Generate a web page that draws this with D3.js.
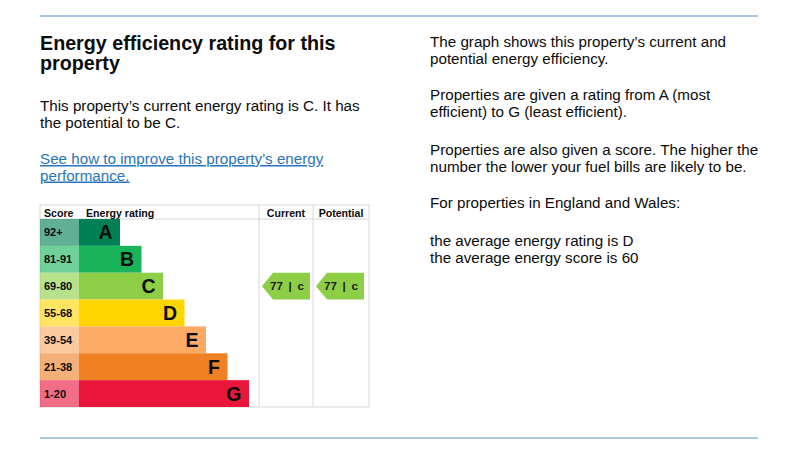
<!DOCTYPE html>
<html>
<head>
<meta charset="utf-8">
<script src="https://cdn.jsdelivr.net/npm/d3@7/dist/d3.min.js"></script>
<style>
  body { margin: 0; background: #fff; }
  svg { display: block; font-family: "Liberation Sans", Arial, sans-serif; }
</style>
</head>
<body>
<script>
// rating bands, top (best) to bottom
const bands = ["A", "B", "C", "D", "E", "F", "G"];
const scoreRanges = ["92+", "81-91", "69-80", "55-68", "39-54", "21-38", "1-20"];
const bandMin = [92, 81, 69, 55, 39, 21, 1];
const bandColors = ["#008054", "#19b459", "#8dce46", "#ffd500", "#fcaa65", "#ef8023", "#e9153b"];
const currentScore = 77;
const potentialScore = 77;

const leftText = [
  "This property\u2019s current energy rating is C. It has",
  "the potential to be C."
];
const linkText = [
  "See how to improve this property\u2019s energy",
  "performance."
];
const rightParas = [
  ["The graph shows this property\u2019s current and", "potential energy efficiency."],
  ["Properties are given a rating from A (most", "efficient) to G (least efficient)."],
  ["Properties are also given a score. The higher the", "number the lower your fuel bills are likely to be."],
  ["For properties in England and Wales:"],
  ["the average energy rating is D", "the average energy score is 60"]
];

const width = 800, height = 463;
const bodySize = "15.2px";
const svg = d3.select("body").append("svg")
  .attr("width", width)
  .attr("height", height);

// separator lines
svg.selectAll("line.sep")
  .data([16, 438])
  .enter().append("line")
  .attr("class", "sep")
  .attr("x1", 40).attr("x2", 758)
  .attr("y1", d => d).attr("y2", d => d)
  .style("stroke", "#5b93c9")
  .style("stroke-width", 1.2);

// left column text
svg.append("text")
  .attr("x", 40).attr("y", 50)
  .style("font-size", "19.7px").style("font-weight", "bold").style("fill", "#0b0c0c")
  .selectAll("tspan")
  .data(["Energy efficiency rating for this", "property"])
  .enter().append("tspan")
  .attr("x", 40)
  .attr("dy", (d, i) => i ? 20 : 0)
  .text(d => d);

svg.append("text")
  .attr("x", 40).attr("y", 111)
  .style("font-size", bodySize).style("fill", "#0b0c0c")
  .selectAll("tspan")
  .data(leftText)
  .enter().append("tspan")
  .attr("x", 40)
  .attr("dy", (d, i) => i ? 16.5 : 0)
  .text(d => d);

svg.append("text")
  .attr("x", 40).attr("y", 164)
  .style("font-size", bodySize).style("fill", "#2a74ba")
  .style("text-decoration", "underline")
  .selectAll("tspan")
  .data(linkText)
  .enter().append("tspan")
  .attr("x", 40)
  .attr("dy", (d, i) => i ? 16.5 : 0)
  .text(d => d);

// right column text
const paraY = [47, 100, 155, 208, 246];
rightParas.forEach((lines, p) => {
  svg.append("text")
    .attr("x", 430).attr("y", paraY[p])
    .style("font-size", bodySize).style("fill", "#0b0c0c")
    .selectAll("tspan")
    .data(lines)
    .enter().append("tspan")
    .attr("x", 430)
    .attr("dy", (d, i) => i ? 16.5 : 0)
    .text(d => d);
});

// ---- rating chart ----
const chart = svg.append("g");
const tableTop = 205, headerBottom = 219, tableBottom = 407;
const xScore = 40, xBar = 79, xCur = 259, xPot = 313, xEnd = 369;

const y = d3.scaleBand()
  .domain(bands)
  .range([headerBottom, tableBottom])
  .padding(0);

const barLen = d3.scaleLinear()
  .domain([1, bands.length])
  .range([41, 170]);

const bandOf = s => bands[bandMin.findIndex(m => s >= m)];

// table grid
chart.append("rect")
  .attr("x", xScore).attr("y", tableTop)
  .attr("width", xEnd - xScore).attr("height", tableBottom - tableTop)
  .style("fill", "none").style("stroke", "#d8d8d8");
chart.append("line")
  .attr("x1", xScore).attr("x2", xEnd)
  .attr("y1", headerBottom).attr("y2", headerBottom)
  .style("stroke", "#d8d8d8");
chart.selectAll("line.col")
  .data([xCur, xPot])
  .enter().append("line")
  .attr("class", "col")
  .attr("x1", d => d).attr("x2", d => d)
  .attr("y1", tableTop).attr("y2", tableBottom)
  .style("stroke", "#d8d8d8");

// headers
const headers = [
  { t: "Score", x: 44, a: "start" },
  { t: "Energy rating", x: 86, a: "start" },
  { t: "Current", x: (xCur + xPot) / 2, a: "middle" },
  { t: "Potential", x: (xPot + xEnd) / 2, a: "middle" }
];
chart.selectAll("text.hdr")
  .data(headers)
  .enter().append("text")
  .attr("class", "hdr")
  .attr("x", d => d.x).attr("y", 216.5)
  .attr("text-anchor", d => d.a)
  .style("font-size", "10.6px").style("font-weight", "bold").style("fill", "#0b0c0c")
  .text(d => d.t);

const rows = chart.selectAll("g.row")
  .data(bands)
  .enter().append("g")
  .attr("class", "row")
  .attr("transform", d => `translate(0,${y(d)})`);

rows.append("rect")
  .attr("x", xScore).attr("width", xBar - xScore)
  .attr("height", y.bandwidth())
  .style("fill", (d, i) => bandColors[i])
  .style("fill-opacity", 0.62);

rows.append("text")
  .attr("x", 44).attr("y", y.bandwidth() / 2 + 4)
  .style("font-size", "11px").style("font-weight", "bold").style("fill", "#0b0c0c")
  .text((d, i) => scoreRanges[i]);

rows.append("rect")
  .attr("x", xBar).attr("width", (d, i) => barLen(i + 1))
  .attr("height", y.bandwidth())
  .style("fill", (d, i) => bandColors[i]);

rows.append("text")
  .attr("x", (d, i) => xBar + barLen(i + 1) - 7.5)
  .attr("y", y.bandwidth() / 2 + 7)
  .attr("text-anchor", "end")
  .style("font-size", "19.5px").style("font-weight", "bold").style("fill", "#0b0c0c")
  .text(d => d);

// current / potential arrows
const markers = [
  { score: currentScore, x0: xCur + 3, x1: xPot - 3 },
  { score: potentialScore, x0: xPot + 3, x1: xEnd - 5 }
];
const arrow = chart.selectAll("g.arrow")
  .data(markers)
  .enter().append("g")
  .attr("class", "arrow")
  .attr("transform", d => `translate(0,${y(bandOf(d.score))})`);

arrow.append("path")
  .attr("d", d => {
    const h = y.bandwidth();
    return `M${d.x0},${h / 2} L${d.x0 + 11},0 L${d.x1},0 L${d.x1},${h} L${d.x0 + 11},${h} Z`;
  })
  .style("fill", d => bandColors[bands.indexOf(bandOf(d.score))]);

arrow.append("text")
  .attr("x", d => (d.x0 + d.x1) / 2 + 1)
  .attr("y", y.bandwidth() / 2 + 4)
  .attr("text-anchor", "middle")
  .style("font-size", "11.5px").style("font-weight", "bold").style("fill", "#1a1a1a")
  .style("word-spacing", "2.5px")
  .text(d => `${d.score} | ${bandOf(d.score).toLowerCase()}`);
</script>
</body>
</html>
